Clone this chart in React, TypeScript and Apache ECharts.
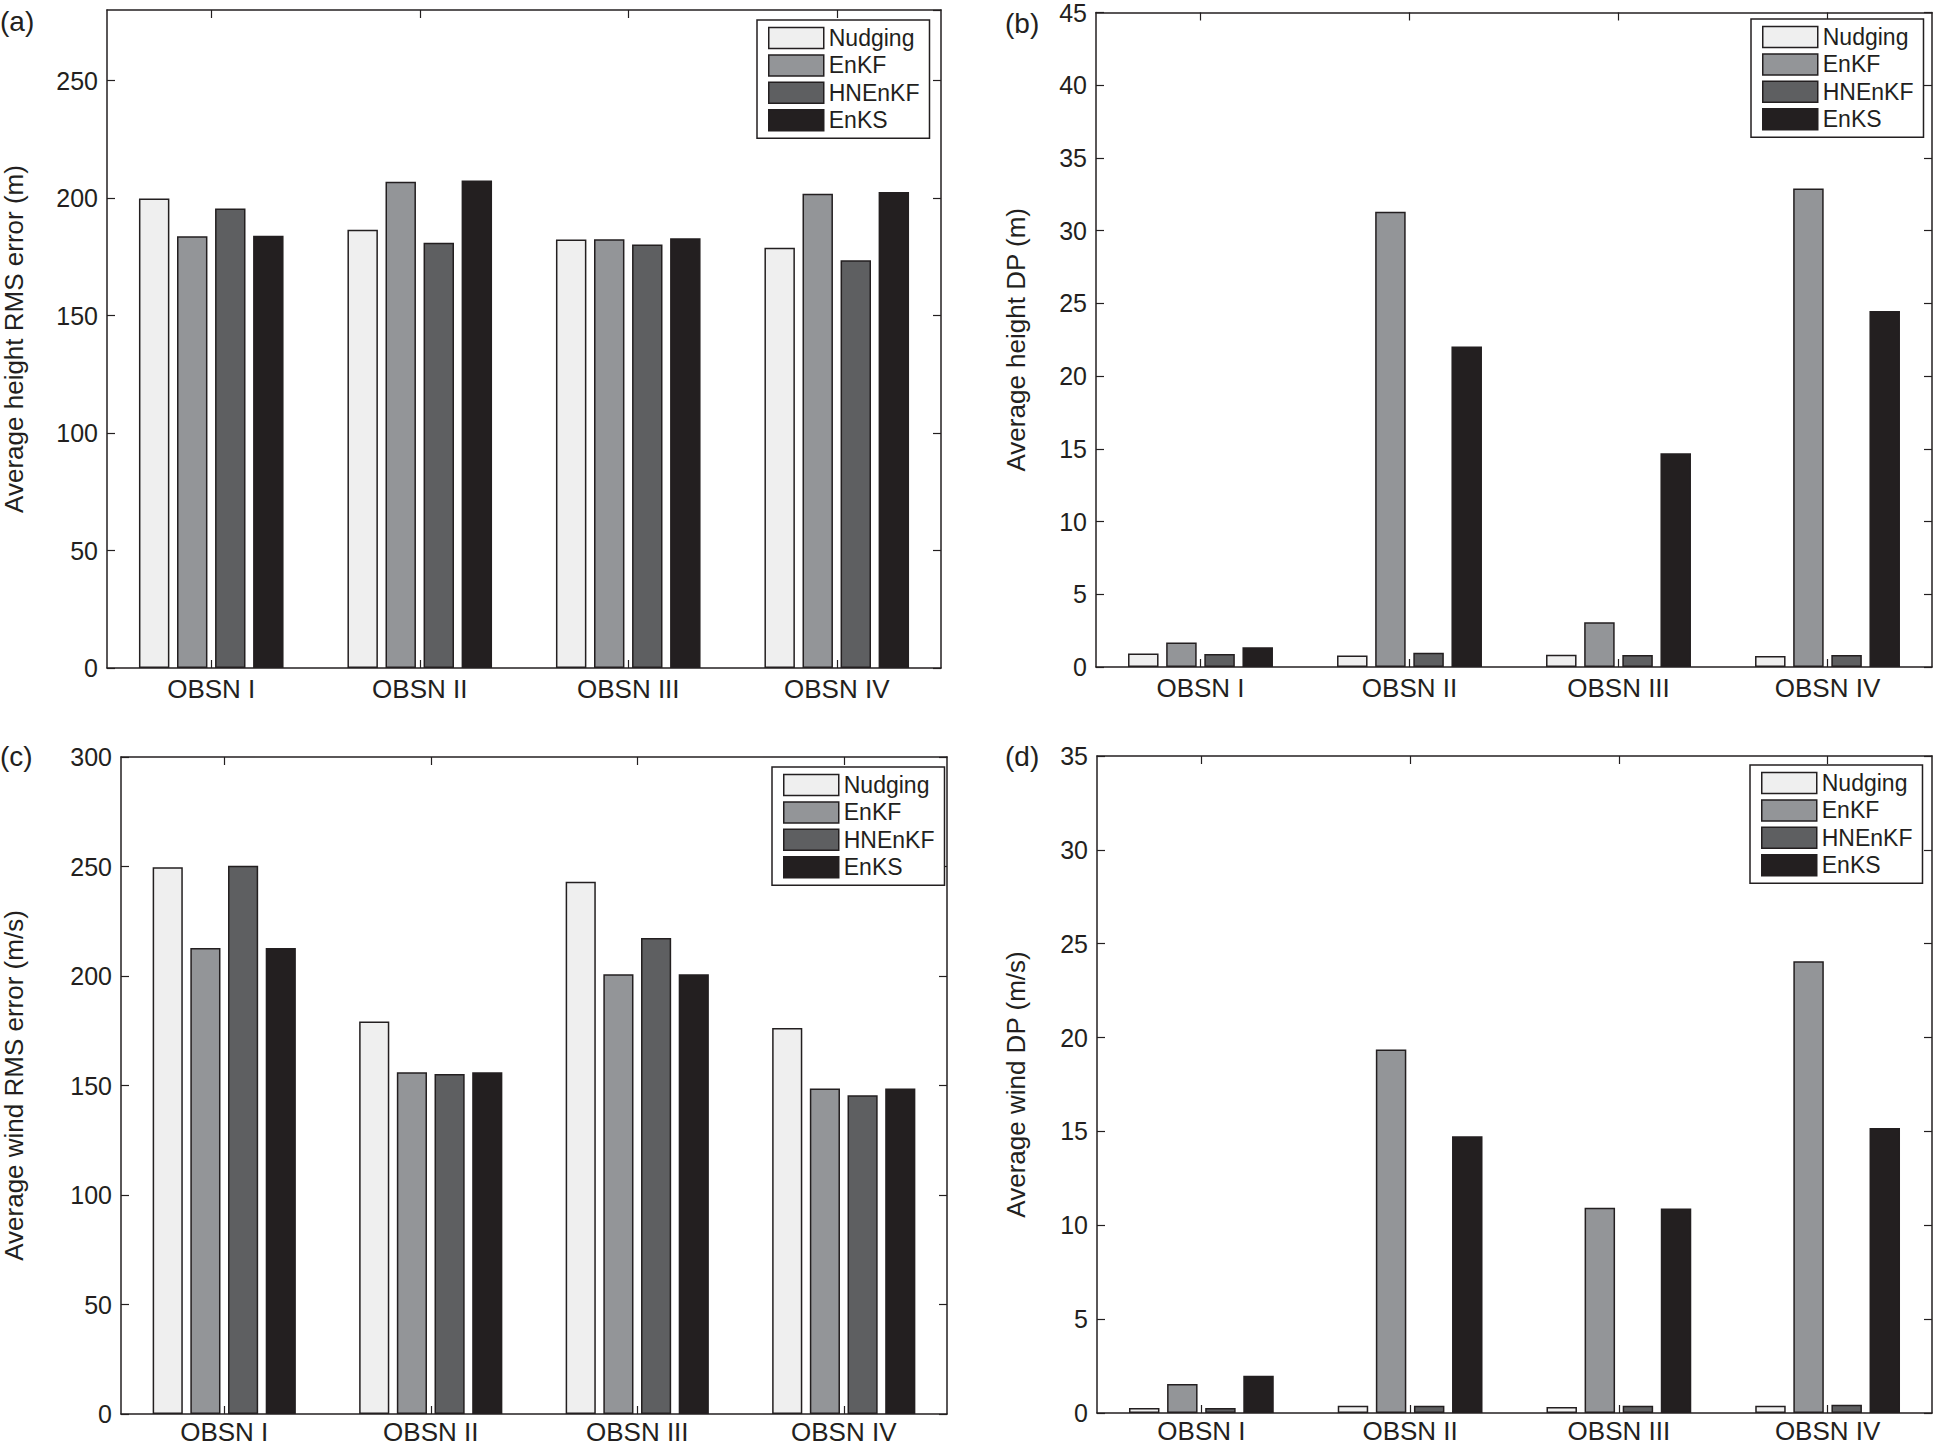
import React, { useEffect, useRef } from "react";
import * as echarts from "echarts";

const categories = ["OBSN I", "OBSN II", "OBSN III", "OBSN IV"];
const methods = ["Nudging", "EnKF", "HNEnKF", "EnKS"];

// (a) Average height RMS error (m)
const heightRmsNudging = [199.8, 186.5, 182.3, 178.8];
const heightRmsEnKF = [183.7, 206.9, 182.5, 201.8];
const heightRmsHNEnKF = [195.5, 181.0, 180.2, 173.5];
const heightRmsEnKS = [183.9, 207.5, 182.9, 202.6];

// (b) Average height DP (m)
const heightDpNudging = [0.92, 0.79, 0.85, 0.76];
const heightDpEnKF = [1.68, 31.3, 3.07, 32.9];
const heightDpHNEnKF = [0.89, 0.98, 0.82, 0.82];
const heightDpEnKS = [1.36, 22.04, 14.7, 24.48];

// (c) Average wind RMS error (m/s)
const windRmsNudging = [249.7, 179.2, 243.0, 176.2];
const windRmsEnKF = [212.8, 156.0, 200.8, 148.6];
const windRmsHNEnKF = [250.3, 155.2, 217.3, 145.5];
const windRmsEnKS = [212.8, 156.0, 200.8, 148.6];

// (d) Average wind DP (m/s)
const windDpNudging = [0.27, 0.39, 0.32, 0.39];
const windDpEnKF = [1.55, 19.36, 10.93, 24.07];
const windDpHNEnKF = [0.27, 0.39, 0.39, 0.44];
const windDpEnKS = [1.99, 14.74, 10.9, 15.18];

const panelLetters = ["(a)", "(b)", "(c)", "(d)"];
const yNames = [
  "Average height RMS error (m)",
  "Average height DP (m)",
  "Average wind RMS error (m/s)",
  "Average wind DP (m/s)",
];
const yMax = [280, 45, 300, 35];
const yInterval = [50, 5, 50, 5];

const panelData = [
  [heightRmsNudging, heightRmsEnKF, heightRmsHNEnKF, heightRmsEnKS],
  [heightDpNudging, heightDpEnKF, heightDpHNEnKF, heightDpEnKS],
  [windRmsNudging, windRmsEnKF, windRmsHNEnKF, windRmsEnKS],
  [windDpNudging, windDpEnKF, windDpHNEnKF, windDpEnKS],
];

const colors = ["#efefef", "#939598", "#5e5f61", "#231f20"];
const ink = "#231f20";
const font = "'Liberation Sans', Arial, Helvetica, sans-serif";

const grids = [
  { left: 105, top: 10, width: 836, height: 658 },
  { left: 1096, top: 10, width: 836, height: 657 },
  { left: 119, top: 757, width: 828, height: 657 },
  { left: 1097, top: 756, width: 835, height: 657 },
];
const nameGaps = [80, 67, 94, 68];
const xLabelMargins = [8, 8, 5, 5];
const legendPos = [
  { left: 757, top: 20 },
  { left: 1751, top: 19 },
  { left: 772, top: 767 },
  { left: 1750, top: 765 },
];
const letterPos = [
  { left: 0, top: 7 },
  { left: 1005, top: 9 },
  { left: 0, top: 742 },
  { left: 1005, top: 742 },
];

export default function App() {
  const ref = useRef<HTMLDivElement>(null);

  useEffect(() => {
    if (!ref.current) return;
    const chart = echarts.init(ref.current, undefined, { renderer: "svg" });

    const xAxis: any[] = [];
    const yAxis: any[] = [];
    const series: any[] = [];
    const legend: any[] = [];
    const graphic: any[] = [];

    grids.forEach((g, i) => {
      xAxis.push({
        type: "category",
        gridIndex: i,
        data: categories,
        position: "bottom",
        axisLine: { show: true, onZero: false, lineStyle: { color: ink, width: 1.5 } },
        axisTick: { show: true, inside: true, length: 8, alignWithLabel: true, lineStyle: { color: ink, width: 1.2 } },
        axisLabel: { color: ink, fontSize: 26, fontFamily: font, margin: xLabelMargins[i] },
      });
      xAxis.push({
        type: "category",
        gridIndex: i,
        data: categories,
        position: "top",
        axisLine: { show: true, onZero: false, lineStyle: { color: ink, width: 1.5 } },
        axisTick: { show: true, inside: true, length: 8, alignWithLabel: true, lineStyle: { color: ink, width: 1.2 } },
        axisLabel: { show: false },
      });
      yAxis.push({
        type: "value",
        gridIndex: i,
        position: "left",
        min: 0,
        max: yMax[i],
        interval: yInterval[i],
        name: yNames[i],
        nameLocation: "middle",
        nameGap: nameGaps[i],
        nameTextStyle: { color: ink, fontSize: 26, fontFamily: font },
        axisLine: { show: true, onZero: false, lineStyle: { color: ink, width: 1.5 } },
        axisTick: { show: true, inside: true, length: 8, lineStyle: { color: ink, width: 1.2 } },
        axisLabel: { color: ink, fontSize: 25, fontFamily: font, margin: 9, showMaxLabel: i !== 0 },
        splitLine: { show: false },
      });
      yAxis.push({
        type: "value",
        gridIndex: i,
        position: "right",
        min: 0,
        max: yMax[i],
        interval: yInterval[i],
        axisLine: { show: true, onZero: false, lineStyle: { color: ink, width: 1.5 } },
        axisTick: { show: true, inside: true, length: 8, lineStyle: { color: ink, width: 1.2 } },
        axisLabel: { show: false },
        splitLine: { show: false },
      });

      methods.forEach((m, k) => {
        series.push({
          type: "bar",
          name: m,
          xAxisIndex: i * 2,
          yAxisIndex: i * 2,
          data: panelData[i][k],
          barWidth: "14.6%",
          barGap: "25%",
          itemStyle: { color: colors[k], borderColor: ink, borderWidth: 1.5 },
          emphasis: { disabled: true },
        });
      });

      legend.push({
        show: true,
        orient: "vertical",
        left: legendPos[i].left,
        top: legendPos[i].top,
        data: methods,
        icon: "rect",
        itemWidth: 55,
        itemHeight: 21,
        itemGap: 4.4,
        padding: [6.5, 10, 6.5, 11],
        backgroundColor: "#ffffff",
        borderColor: ink,
        borderWidth: 1.5,
        borderRadius: 0,
        selectedMode: false,
        itemStyle: { borderColor: ink, borderWidth: 1.5 },
        textStyle: { color: ink, fontSize: 23, fontFamily: font },
      });

      graphic.push({
        type: "text",
        left: letterPos[i].left,
        top: letterPos[i].top,
        style: { text: panelLetters[i], fontSize: 28, fontFamily: font, fill: ink },
      });
    });

    chart.setOption({
      animation: false,
      backgroundColor: "#ffffff",
      grid: grids.map((g) => ({ ...g, containLabel: false, show: false })),
      xAxis,
      yAxis,
      series,
      legend,
      graphic,
    });

    return () => chart.dispose();
  }, []);

  return (
    <div
      ref={ref}
      style={{ position: "fixed", left: 0, top: 0, width: 1934, height: 1446, background: "#fff" }}
    />
  );
}
